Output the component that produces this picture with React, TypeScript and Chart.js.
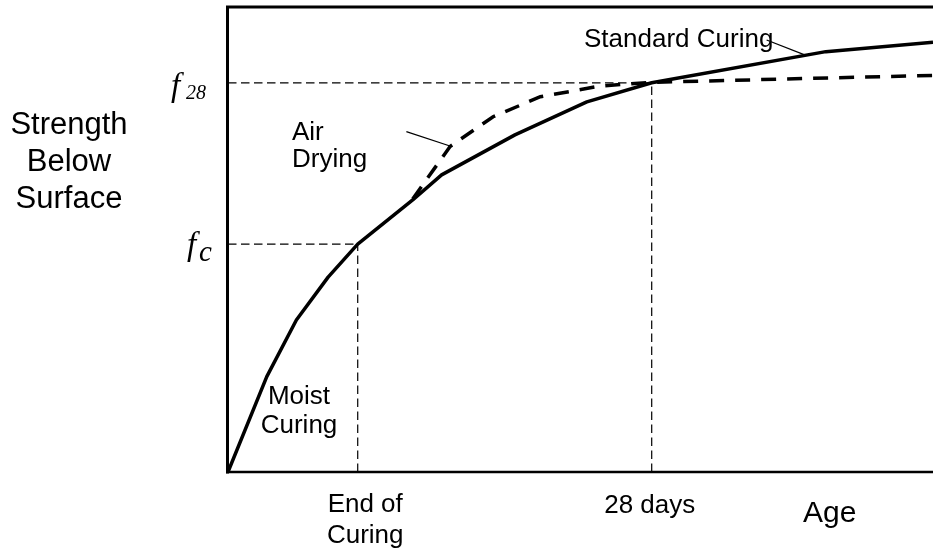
import React, { useEffect, useRef } from "react";
import { Chart, registerables } from "chart.js";

Chart.register(...registerables);

// Age (arbitrary units, 0..100) and strength (arbitrary units, 0..100)
const STANDARD_AGE = [0, 5.5, 9.7, 14.2, 18.4, 26.2, 30.3, 40.7, 50.9, 60.1, 84.8, 100];
const STANDARD_STRENGTH = [0, 20.5, 32.7, 41.9, 49.0, 58.5, 63.9, 72.5, 79.6, 83.7, 90.4, 92.4];
const AIR_AGE = [26.2, 31.5, 37.6, 44.3, 52.8, 60.1, 100];
const AIR_STRENGTH = [58.7, 70.0, 76.4, 80.7, 83.0, 83.8, 85.3];
const END_OF_CURING = 18.4;
const DAY_28 = 60.1;
const F_C = 49.0;
const F_28 = 83.7;
const AIR_POINTER_AGE = [25.3, 31.7];
const AIR_POINTER_STRENGTH = [73.2, 70.0];
const STD_POINTER_AGE = [76.4, 81.8];
const STD_POINTER_STRENGTH = [92.9, 89.7];
const X_TICK_LABELS = [["End of", "Curing"], ["28 days"]];
const Y_AXIS_LABEL = ["Strength", "Below", "Surface"];

const pts = (xs: number[], ys: number[]) => xs.map((x, i) => ({ x, y: ys[i] }));

const SANS = '"Liberation Sans", Arial, sans-serif';
const SERIF = '"Liberation Serif", "Times New Roman", serif';

const labelsPlugin = {
  id: "labels",
  afterDraw(chart: any) {
    const ctx = chart.ctx as CanvasRenderingContext2D;
    const a = chart.chartArea;
    const xs = chart.scales.x;
    const ys = chart.scales.y;
    ctx.save();
    // frame
    ctx.strokeStyle = "#000";
    ctx.lineCap = "butt";
    ctx.lineWidth = 3;
    ctx.beginPath();
    ctx.moveTo(a.left - 2, a.top);
    ctx.lineTo(a.right, a.top);
    ctx.moveTo(a.left - 0.5, a.top - 1.5);
    ctx.lineTo(a.left - 0.5, a.bottom + 1.5);
    ctx.stroke();
    ctx.lineWidth = 2.5;
    ctx.beginPath();
    ctx.moveTo(a.left - 2, a.bottom);
    ctx.lineTo(a.right, a.bottom);
    ctx.stroke();

    ctx.fillStyle = "#000";
    ctx.textBaseline = "alphabetic";

    // y-axis title
    ctx.font = `31px ${SANS}`;
    ctx.textAlign = "center";
    Y_AXIS_LABEL.forEach((t, i) => ctx.fillText(t, 69, 134 + i * 37));

    // x tick labels
    ctx.font = `26px ${SANS}`;
    const xe = xs.getPixelForValue(END_OF_CURING);
    X_TICK_LABELS[0].forEach((t, i) => ctx.fillText(t, xe + 7.5, a.bottom + 40 + i * 31));
    const x28 = xs.getPixelForValue(DAY_28);
    ctx.fillText(X_TICK_LABELS[1][0], x28 - 2, a.bottom + 41);

    // Age
    ctx.font = `30px ${SANS}`;
    ctx.textAlign = "left";
    ctx.fillText("Age", a.left + 575, a.bottom + 50);

    // annotations
    ctx.font = `26px ${SANS}`;
    ctx.textAlign = "left";
    ctx.fillText("Air", a.left + 64, 140);
    ctx.fillText("Drying", a.left + 64, 167);
    ctx.fillText("Standard Curing", a.left + 356, 47);
    ctx.textAlign = "center";
    ctx.fillText("Moist", a.left + 71, 404);
    ctx.fillText("Curing", a.left + 71, 433);

    // f28 and fc
    ctx.textAlign = "left";
    const y28 = ys.getPixelForValue(F_28);
    ctx.font = `italic 33px ${SERIF}`;
    ctx.fillText("f", a.left - 57, y28 + 13);
    ctx.font = `italic 20px ${SERIF}`;
    ctx.fillText("28", a.left - 42, y28 + 16);
    const yc = ys.getPixelForValue(F_C);
    ctx.font = `italic 33px ${SERIF}`;
    ctx.fillText("f", a.left - 41, yc + 11);
    ctx.font = `italic 29px ${SERIF}`;
    ctx.fillText("c", a.left - 29, yc + 17);
    ctx.restore();
  },
};

export default function App() {
  const ref = useRef<HTMLCanvasElement | null>(null);
  useEffect(() => {
    if (!ref.current) return;
    const thinDash = [8.5, 4.5];
    const refLine = (data: any[]) => ({
      data,
      borderColor: "#000",
      borderWidth: 1.2,
      borderDash: thinDash,
      pointRadius: 0,
      showLine: true,
      fill: false,
    });
    const chart = new Chart(ref.current, {
      type: "scatter",
      data: {
        datasets: [
          {
            label: "Standard Curing",
            data: pts(STANDARD_AGE, STANDARD_STRENGTH),
            borderColor: "#000",
            borderWidth: 3.5,
            pointRadius: 0,
            showLine: true,
            tension: 0,
            borderJoinStyle: "round",
          },
          {
            label: "Air Drying",
            data: pts(AIR_AGE, AIR_STRENGTH),
            borderColor: "#000",
            borderWidth: 3.5,
            borderDash: [15, 11],
            pointRadius: 0,
            showLine: true,
            tension: 0,
          },
          refLine([{ x: 0, y: F_28 }, { x: DAY_28, y: F_28 }]),
          refLine([{ x: DAY_28, y: 0 }, { x: DAY_28, y: F_28 }]),
          refLine([{ x: 0, y: F_C }, { x: END_OF_CURING, y: F_C }]),
          refLine([{ x: END_OF_CURING, y: 0 }, { x: END_OF_CURING, y: F_C }]),
          {
            data: pts(AIR_POINTER_AGE, AIR_POINTER_STRENGTH),
            borderColor: "#000",
            borderWidth: 1.3,
            pointRadius: 0,
            showLine: true,
          },
          {
            data: pts(STD_POINTER_AGE, STD_POINTER_STRENGTH),
            borderColor: "#000",
            borderWidth: 1.3,
            pointRadius: 0,
            showLine: true,
          },
        ] as any,
      },
      options: {
        animation: false,
        responsive: false,
        maintainAspectRatio: false,
        layout: { padding: { left: 228, top: 7, right: 0, bottom: 76 } },
        plugins: { legend: { display: false }, tooltip: { enabled: false } },
        scales: {
          x: { type: "linear", min: 0, max: 100, display: false },
          y: { type: "linear", min: 0, max: 100, display: false },
        },
      },
      plugins: [labelsPlugin],
    });
    return () => chart.destroy();
  }, []);
  return (
    <div style={{ position: "fixed", left: 0, top: 0, width: 933, height: 548, background: "#fff" }}>
      <canvas ref={ref} width={933} height={548} style={{ width: 933, height: 548, display: "block" }} />
    </div>
  );
}
